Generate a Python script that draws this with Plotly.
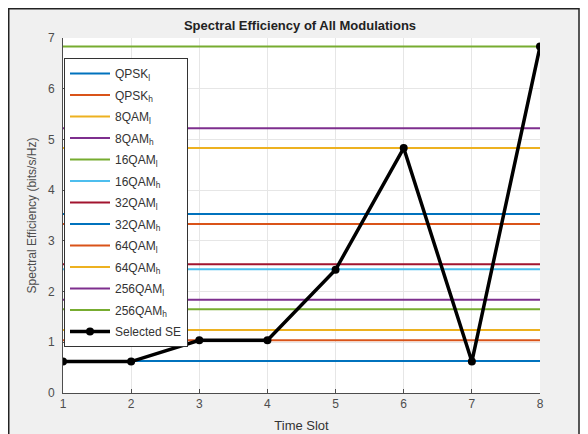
import plotly.graph_objects as go

time_slots = [1, 2, 3, 4, 5, 6, 7, 8]
mod_names = ["QPSK<sub>l</sub>", "QPSK<sub>h</sub>", "8QAM<sub>l</sub>", "8QAM<sub>h</sub>",
             "16QAM<sub>l</sub>", "16QAM<sub>h</sub>", "32QAM<sub>l</sub>", "32QAM<sub>h</sub>",
             "64QAM<sub>l</sub>", "64QAM<sub>h</sub>", "256QAM<sub>l</sub>", "256QAM<sub>h</sub>"]
mod_se = [0.63, 1.04, 1.24, 1.84, 1.65, 2.44, 2.54, 3.53, 3.33, 4.83, 5.22, 6.83]
selected_se = [0.62, 0.62, 1.04, 1.04, 2.43, 4.83, 0.62, 6.83]

colors = ["#0072BD", "#D95319", "#EDB120", "#7E2F8E", "#77AC30", "#4DBEEE", "#A2142F"]

fig = go.Figure()
for i, (name, v) in enumerate(zip(mod_names, mod_se)):
    fig.add_trace(go.Scatter(
        x=[time_slots[0], time_slots[-1]], y=[v, v], mode="lines", name=name,
        line=dict(color=colors[i % len(colors)], width=2), legendgroup=f"g{i}"))
fig.add_trace(go.Scatter(
    x=time_slots, y=selected_se, mode="lines+markers", name="Selected SE",
    line=dict(color="black", width=3.5), marker=dict(color="black", size=8),
    legendgroup="sel"))

# page body has an 8px margin: figure coordinates = screen - 8
W, H = 580, 426
L, R, T, B = 55, 48, 30, 41
pw, ph = W - L - R, H - T - B

def px_x(p):
    return (p - L) / pw

def px_y(p):
    return (H - B - p) / ph

# white strip right of the window border
fig.add_shape(type="rect", xref="paper", yref="paper",
              x0=px_x(571), x1=px_x(W + 2), y0=px_y(H + 2), y1=px_y(-2),
              fillcolor="white", line=dict(width=0), layer="below")
# window border
fig.add_shape(type="rect", xref="paper", yref="paper",
              x0=px_x(0.75), x1=px_x(571), y0=px_y(H + 5), y1=px_y(0.75),
              fillcolor="rgba(0,0,0,0)", line=dict(color="#222222", width=1.5), layer="below")

axis_common = dict(showgrid=True, gridcolor="#e6e6e6", gridwidth=1, zeroline=False,
                   showline=True, linecolor="#4d4d4d", linewidth=1,
                   ticks="inside", ticklen=4, tickcolor="#4d4d4d",
                   tickfont=dict(family="Liberation Sans, Arial", size=12, color="#4d4d4d"),
                   mirror=False, automargin=False)

fig.update_layout(
    width=W, height=H,
    margin=dict(l=L, r=R, t=T, b=B),
    paper_bgcolor="#f0f0f0", plot_bgcolor="white",
    title=dict(text="<b>Spectral Efficiency of All Modulations</b>", x=px_x(292), xref="paper",
               xanchor="center", y=1 - 17 / H, yanchor="middle",
               font=dict(family="Liberation Sans, Arial", size=13, color="#222222")),
    xaxis=dict(range=[1, 8], tickvals=time_slots, title=dict(text="Time Slot", standoff=10,
               font=dict(family="Liberation Sans, Arial", size=13, color="#333333")), **axis_common),
    yaxis=dict(range=[0, 7], dtick=1, ticklabelstandoff=5,
               title=dict(text="Spectral Efficiency (bits/s/Hz)", standoff=8,
               font=dict(family="Liberation Sans, Arial", size=12, color="#4d4d4d")), **axis_common),
    legend=dict(x=px_x(56), y=px_y(50), xanchor="left", yanchor="top",
                bgcolor="white", bordercolor="#333333", borderwidth=1,
                font=dict(family="Liberation Sans, Arial", size=12, color="#333333"),
                tracegroupgap=2.5, itemwidth=40),
    showlegend=True,
)

fig.write_html("out.html")
